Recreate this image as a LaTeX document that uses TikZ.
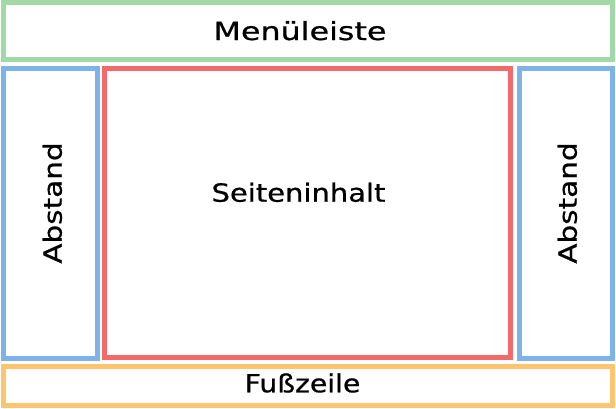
\documentclass[tikz,border=0pt]{standalone}
\usepackage{fontspec}
\setmainfont{DejaVu Sans}
\newfontfamily\lblfont{DejaVu Sans}[FakeBold=0.6]
\definecolor{cgreen}{RGB}{162,218,166}
\definecolor{cblue}{RGB}{126,179,234}
\definecolor{cred}{RGB}{242,106,106}
\definecolor{corange}{RGB}{253,197,111}
\tikzset{
  panel/.style={line width=5pt, fill=none},
  lbl/.style={inner sep=0pt, anchor=base, font=\lblfont\fontsize{25pt}{29pt}\selectfont}
}
\begin{document}
\begin{tikzpicture}[x=1pt,y=-1pt]
\useasboundingbox (0,0) rectangle (616,408);
\fill[white] (0,0) rectangle (616,408);
\draw[panel, cgreen] (3.5,2.5) rectangle (612.5,59.2);
\draw[panel, cblue] (3.5,68.5) rectangle (97.5,358);
\draw[panel, cred] (104,68.5) rectangle (510,357.5);
\draw[panel, cblue] (519,68.5) rectangle (612.5,358);
\draw[panel, corange] (3.5,366.5) rectangle (612.5,405);
\node[lbl] (menu) at (300,40) {\scalebox{1.27}[1]{Menüleiste}};
\node[lbl] (inhalt) at (298.5,201.7) {\scalebox{1.16}[1]{Seiteninhalt}};
\node[lbl, rotate=90] (abl) at (61.7,203) {\scalebox{1.18}[1]{Abstand}};
\node[lbl, rotate=90] (abr) at (576.7,203) {\scalebox{1.18}[1]{Abstand}};
\node[lbl] (fuss) at (302.5,392.3) {\scalebox{1.13}[1]{Fußzeile}};
\end{tikzpicture}
\end{document}
